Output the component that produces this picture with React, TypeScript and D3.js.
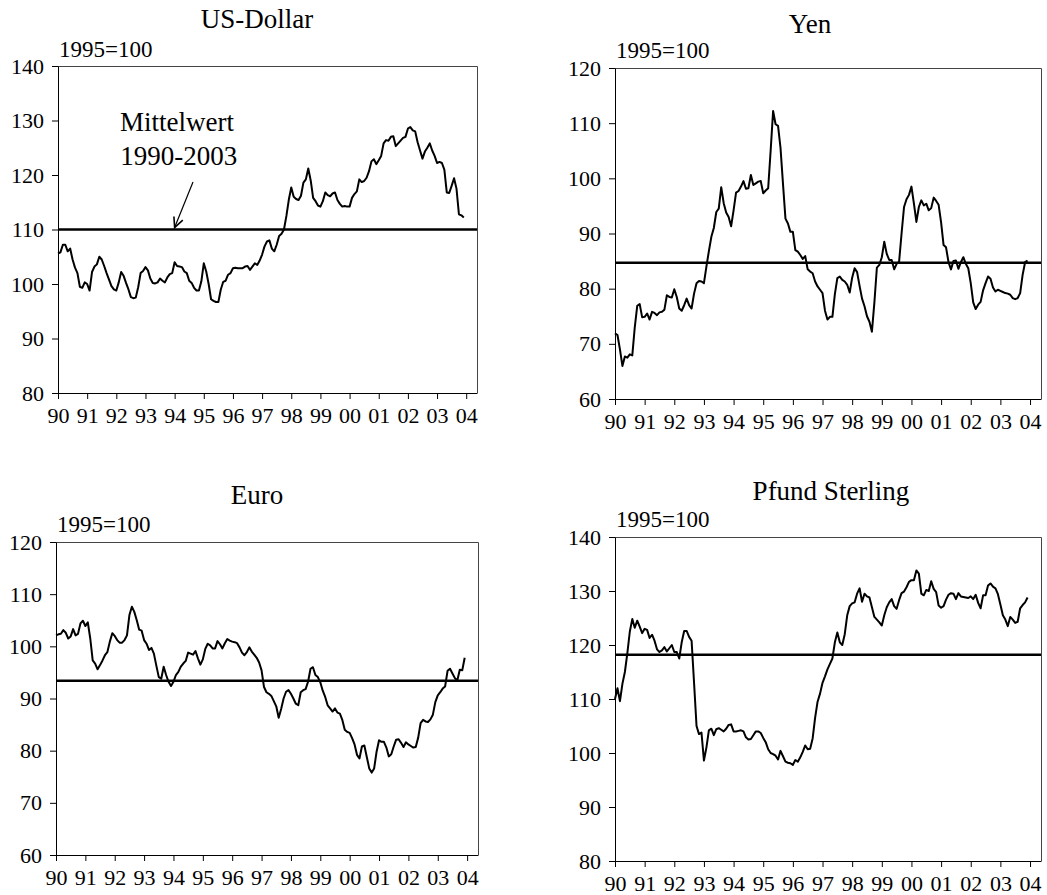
import React, { useEffect, useRef } from 'react';
import * as d3 from 'd3';

// Monthly index values, Jan 1990 - Dec 2003 (1995=100)
const usDollar = [
  105.6, 105.8, 107.2, 107.2, 106, 106.5, 104.5, 103, 102, 99.5, 99.3, 100.3,
  100, 98.8, 102.2, 103.2, 103.6, 105, 104.5, 103.3, 102, 100.8, 99.6, 99,
  98.8, 100.3, 102.2, 101.5, 100.2, 99, 97.6, 97.4, 97.5, 99.4, 102, 102.4,
  103.1, 102.5, 101, 100.2, 100.1, 100.3, 101, 100.6, 100.3, 101.2, 101.8, 102,
  104, 103.3, 103.2, 103.1, 102.3, 102, 100.6, 100.2, 99.3, 98.8, 98.8, 100.5,
  103.8, 102.3, 100, 97.2, 96.9, 96.7, 96.7, 99, 100.4, 100.6, 101.7, 102,
  102.9, 103, 102.9, 102.9, 102.9, 103.2, 103.3, 102.6, 103.2, 103.8, 103.5, 104.3,
  105.4, 106.9, 107.8, 108, 106.5, 106, 107.2, 108.8, 109.2, 110, 112.5, 115.5,
  117.7, 116, 115.6, 115.4, 116.2, 118.6, 119.2, 121.2, 119, 115.8, 115.2, 114.4,
  114.2, 115.2, 116.8, 116.3, 116.1, 116.6, 116.8, 115.4, 114.7, 114.2, 114.3, 114.2,
  114.2, 115.8, 116.5, 117, 119.2, 118.7, 118.9, 119.5, 120.7, 122.5, 122.9, 122,
  122.7, 123.5, 125.8, 126.4, 126.3, 127, 127.1, 125.3, 125.8, 126.3, 126.8, 127,
  128.5, 128.8, 128.2, 128, 126, 124.5, 123, 124.3, 125, 125.8, 124.5, 123.5,
  122.2, 122.4, 122.2, 121, 116.8, 116.7, 118, 119.4, 117.5, 112.8, 112.6, 112.2,
];

const yen = [
  71.9, 71.6, 69, 66, 67.7, 67.5, 68.1, 67.9, 73, 76.9, 77.2, 74.8,
  74.9, 75.5, 74.4, 75.8, 75.6, 75.2, 75.7, 75.8, 76.2, 78.8, 78.5, 78.4,
  79.9, 78.5, 76.4, 76, 77, 78.2, 77, 76.4, 79.1, 81, 81.4, 81.3,
  81, 84, 86.8, 89.4, 91, 93.9, 94.5, 98.4, 95.5, 93.8, 93, 91.3,
  94.2, 97.4, 97.7, 98.5, 99.5, 98.1, 98.2, 100.6, 98.8, 99.1, 99.4, 99.5,
  97.3, 97.8, 98.2, 105, 112.2, 109.8, 109.5, 105.5, 99, 92.7, 91.8, 90.3,
  90.3, 87, 86.7, 86.1, 85.4, 85.9, 83.5, 83.1, 82.8, 81.3, 80.4, 79.8,
  79.2, 76, 74.4, 74.9, 74.9, 79, 81.9, 82.2, 81.6, 81.3, 80.7, 79.3,
  82, 83.7, 83, 80.5, 78.2, 76.8, 75, 74, 72.2, 77.5, 83.8, 84.3,
  85.7, 88.5, 86.3, 85.2, 85.2, 83.5, 84.5, 84.9, 90, 94.8, 96.2, 97,
  98.5, 95.4, 92.1, 94.8, 96, 95.1, 95.4, 94.2, 94.6, 96.5, 95.9, 95.2,
  92, 87.9, 87.5, 84.8, 83.5, 85, 85.1, 83.6, 84.8, 85.7, 84.5, 83.7,
  81, 77.5, 76.3, 77.1, 77.6, 79.7, 81, 82.2, 81.8, 80.2, 79.5, 79.8,
  79.6, 79.4, 79.2, 79.1, 78.9, 78.3, 78.1, 78.3, 79.2, 82.5, 84.8, 85.1,
];

const euro = [
  102.1, 102.3, 102.4, 103.1, 102.6, 101.5, 101.9, 103.3, 102.1, 102.4, 104.4, 104.9,
  103.9, 104.6, 101.5, 97.3, 96.7, 95.6, 96.4, 97.3, 98.3, 98.9, 100.9, 102.5,
  102, 101.2, 100.7, 100.7, 101.2, 102.1, 106, 107.6, 106.6, 105, 103.2, 103,
  101.2, 100.5, 99.3, 99.7, 98.6, 96.3, 94.1, 93.8, 96.1, 94.5, 93.2, 92.4,
  93.2, 94.5, 95.1, 96.1, 96.7, 97.2, 98.8, 98.6, 98.4, 99.1, 97.7, 96.5,
  97.5, 99.5, 100.5, 100.2, 99.6, 99.6, 101, 100.4, 99.6, 100.6, 101.4, 101.1,
  100.9, 100.8, 100.6, 99.8, 98.8, 98.3, 98.9, 99.8, 99, 98.4, 97.8, 96.9,
  95.4, 92.2, 91.2, 90.9, 90.5, 89.5, 88.5, 86.3, 88, 90, 91.3, 91.6,
  90.9, 90, 89, 88.7, 91.2, 91.6, 91.8, 93.2, 95.7, 96, 94.5, 94.1,
  93.1, 91.5, 90.3, 88.7, 88.1, 87.5, 88.1, 87.3, 87.1, 85.9, 84, 83.6,
  83.4, 82.4, 81.2, 79.2, 78.5, 80.8, 81, 78.8, 76.6, 75.8, 76.6, 79.8,
  82, 81.7, 81.7, 80.6, 78.9, 79.3, 80.8, 82.1, 82.2, 81.5, 80.7, 81.6,
  81.2, 80.9, 80.6, 80.7, 82.5, 85.3, 85.9, 85.6, 85.5, 86, 86.9, 89.3,
  90.6, 91.2, 91.9, 92.3, 95.3, 95.7, 94.8, 93.9, 93.5, 95.5, 95.4, 97.8,
];

const pfundSterling = [
  110, 112, 109.6, 112.8, 115, 118.5, 122.5, 124.8, 123.2, 124.5, 123.4, 122.2,
  123, 122.8, 121.3, 121.9, 120.8, 119.2, 118.7, 119, 119.6, 118.8, 119.4, 120,
  118.7, 118.7, 117.5, 120.5, 122.6, 122.6, 121.5, 120.8, 113, 105, 103.5, 103.8,
  98.6, 101, 104.2, 104.5, 103.3, 104.4, 104.6, 104.3, 104, 104.5, 105.2, 105.3,
  104, 104, 104.1, 104.2, 104, 102.9, 102.5, 102.6, 103.3, 104, 104, 103.7,
  102.8, 102, 100.7, 100, 99.8, 99.5, 98.8, 100.4, 99.4, 98.4, 98.2, 98.1,
  97.8, 98.7, 98.4, 99.2, 100.2, 101.4, 100.7, 100.8, 102.7, 106.5, 109.5, 111,
  113, 114.2, 115.5, 116.5, 117.5, 120.5, 122.3, 120.5, 120, 122, 125.5, 127.2,
  127.7, 127.9, 129.5, 130.5, 128, 129.5, 129, 128.8, 127, 125.2, 124.7, 124.2,
  123.6, 125.5, 127, 127.9, 128.5, 127.2, 126.7, 128.3, 129.6, 129.9, 130.7, 131.7,
  132, 132, 133.8, 133.2, 129.5, 129.2, 130.2, 130, 131.8, 130.4, 129.8, 127.3,
  126.9, 127.2, 128.4, 129.3, 129.6, 129.5, 128.5, 129.6, 129, 128.9, 128.8, 128.7,
  129, 128.5, 129.3, 127.8, 126.8, 129.2, 129.2, 131, 131.4, 130.8, 130.5, 129.4,
  127.5, 125.5, 124.7, 123.5, 125.2, 124.7, 124.1, 124.3, 126.8, 127.4, 127.9, 128.8,
];

const titles = ['US-Dollar', 'Yen', 'Euro', 'Pfund Sterling'];
const seriesList = [usDollar, yen, euro, pfundSterling];
const meanValues = [110, 84.7, 93.4, 118.2];
const yDomains = [[80, 140], [60, 120], [60, 120], [80, 140]];
const yearTicks = d3.range(1990, 2005);
const yearLabels = ['90', '91', '92', '93', '94', '95', '96', '97', '98', '99', '00', '01', '02', '03', '04'];

const FONT = 'Liberation Serif, Times New Roman, DejaVu Serif, serif';

// panel boxes in page pixels
const boxes = [
  { left: 58, right: 477, top: 66, bottom: 393, titleX: 257, titleY: 28, baseX: 59, baseY: 57 },
  { left: 615, right: 1041, top: 68, bottom: 399, titleX: 810, titleY: 33, baseX: 616, baseY: 58 },
  { left: 56, right: 478, top: 542, bottom: 855, titleX: 257, titleY: 504, baseX: 57, baseY: 532 },
  { left: 615, right: 1041, top: 537, bottom: 861, titleX: 831, titleY: 500, baseX: 616, baseY: 527 },
];

const App = () => {
  const svgRef = useRef<SVGSVGElement>(null);

  useEffect(() => {
    const svg = d3.select(svgRef.current);
    svg.selectAll('*').remove();

    svg.append('rect').attr('width', 1047).attr('height', 895).attr('fill', '#fff');

    boxes.forEach((b, p) => {
      const data = seriesList[p];
      const x = d3.scaleLinear().domain([1990, 2004.37]).range([b.left, b.right]);
      const y = d3.scaleLinear().domain(yDomains[p]).range([b.bottom, b.top]);
      const g = svg.append('g').attr('font-family', FONT);

      // Title and unit label
      g.append('text')
        .attr('x', b.titleX)
        .attr('y', b.titleY)
        .attr('text-anchor', 'middle')
        .attr('font-family', FONT)
        .attr('font-size', 27)
        .text(titles[p]);

      g.append('text')
        .attr('x', b.baseX)
        .attr('y', b.baseY)
        .attr('font-family', FONT)
        .attr('font-size', 23)
        .text('1995=100');

      // Frame top + right
      g.append('path')
        .attr('d', `M${b.left},${b.top + 0.5}H${b.right + 0.5}V${b.bottom}`)
        .attr('fill', 'none')
        .attr('stroke', '#444')
        .attr('stroke-width', 1);

      // Axes
      const yAxis = d3.axisLeft(y)
        .tickValues(d3.range(yDomains[p][0], yDomains[p][1] + 1, 10))
        .tickSize(6)
        .tickSizeOuter(0)
        .tickPadding(8);
      const yg = g.append('g').attr('transform', `translate(${b.left},0)`).call(yAxis);

      const xAxis = d3.axisBottom(x)
        .tickValues(yearTicks)
        .tickFormat((d, i) => yearLabels[i])
        .tickSize(6)
        .tickSizeOuter(0)
        .tickPadding(8);
      const xg = g.append('g').attr('transform', `translate(0,${b.bottom})`).call(xAxis);

      [yg, xg].forEach(ax => {
        ax.attr('font-family', FONT).attr('font-size', 22);
        ax.select('.domain').attr('stroke', '#000');
        ax.selectAll('.tick line').attr('stroke', '#000');
        ax.selectAll('.tick text')
          .attr('font-family', FONT)
          .attr('font-size', 22)
          .attr('fill', '#000');
      });

      // Mean line
      g.append('line')
        .attr('x1', b.left)
        .attr('x2', b.right)
        .attr('y1', y(meanValues[p]))
        .attr('y2', y(meanValues[p]))
        .attr('stroke', '#000')
        .attr('stroke-width', 2.5);

      // Series
      const line = d3.line<number>()
        .x((d, i) => x(1990 + i / 12))
        .y(d => y(d));

      g.append('path')
        .datum(data)
        .attr('d', line)
        .attr('fill', 'none')
        .attr('stroke', '#000')
        .attr('stroke-width', 2)
        .attr('stroke-linejoin', 'round');

      // Annotation on the dollar panel
      if (p === 0) {
        g.append('text')
          .attr('x', x(1994.08))
          .attr('y', y(128.05))
          .attr('text-anchor', 'middle')
          .attr('font-size', 27)
          .text('Mittelwert');
        g.append('text')
          .attr('x', x(1994.14))
          .attr('y', y(121.8))
          .attr('text-anchor', 'middle')
          .attr('font-size', 27)
          .text('1990-2003');

        const x0 = x(1994.63), y0 = y(118.7);
        const x1 = x(1994), y1 = y(meanValues[0]) - 2;
        const ang = Math.atan2(y1 - y0, x1 - x0);
        const head = 11;
        g.append('line')
          .attr('x1', x0).attr('y1', y0).attr('x2', x1).attr('y2', y1)
          .attr('stroke', '#000').attr('stroke-width', 1.2);
        g.append('path')
          .attr('d', `M${x1 + head * Math.cos(ang + Math.PI - 0.45)},${y1 + head * Math.sin(ang + Math.PI - 0.45)}L${x1},${y1}L${x1 + head * Math.cos(ang + Math.PI + 0.45)},${y1 + head * Math.sin(ang + Math.PI + 0.45)}`)
          .attr('fill', 'none')
          .attr('stroke', '#000')
          .attr('stroke-width', 1.6);
      }
    });
  }, []);

  return (
    <svg
      ref={svgRef}
      width={1047}
      height={895}
      style={{ position: 'absolute', left: 0, top: 0 }}
    />
  );
};

export default App;
